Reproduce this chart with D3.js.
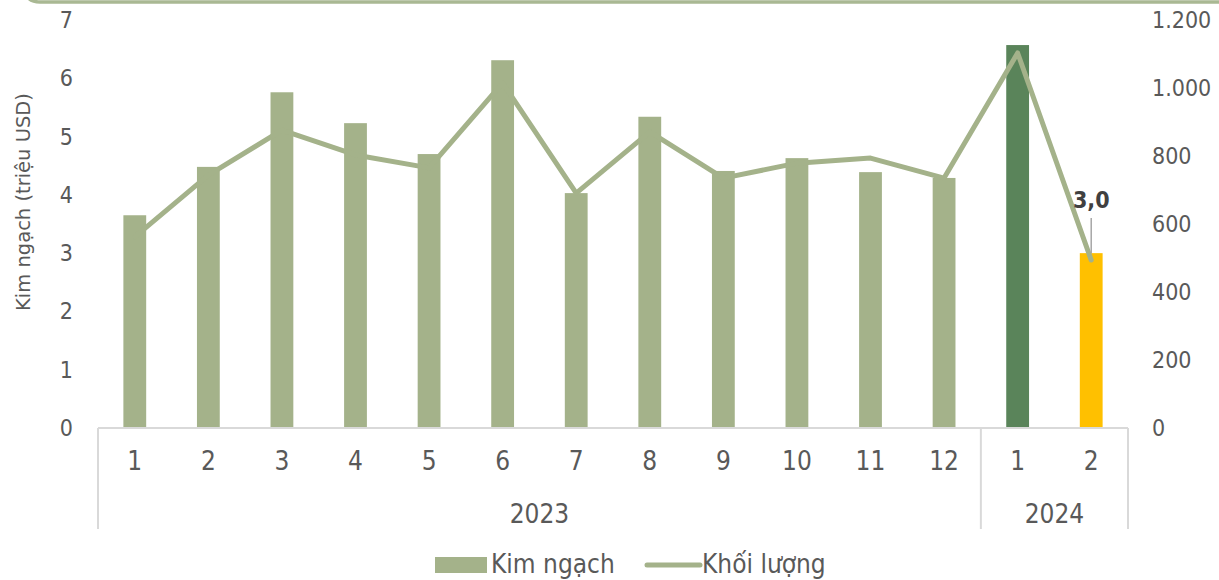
<!DOCTYPE html>
<html><head><meta charset="utf-8">
<script src="https://cdn.jsdelivr.net/npm/d3@7"></script>
<style>html,body{margin:0;padding:0;background:#fff;}svg{display:block;}</style>
</head><body>
<svg id="chart" width="1219" height="580"></svg>
<script>
const months = ["1","2","3","4","5","6","7","8","9","10","11","12","1","2"];
const years = ["2023","2023","2023","2023","2023","2023","2023","2023","2023","2023","2023","2023","2024","2024"];
const kimNgach = [3.65,4.48,5.76,5.23,4.70,6.31,4.03,5.34,4.41,4.63,4.39,4.29,6.57,3.0];
const khoiLuong = [562,744,876,803,765,1015,691,871,735,779,794,735,1103,494];
const leftTicks = [0,1,2,3,4,5,6,7];
const rightTicks = [0,200,400,600,800,1000,1200];
const seriesNames = ["Kim ngạch","Khối lượng"];
const yTitle = "Kim ngạch (triệu USD)";
const annotationLabel = "3,0";

(function(){
const svg = d3.select("#chart");
const W = 1219, H = 580;
const pLeft = 98, pRight = 1128, pTop = 20, pBottom = 428;
const font = "'DejaVu Sans Condensed','DejaVu Sans',sans-serif";
const txt = "#595959";
const green = "#A4B28A", dark = "#5A845A", yellow = "#FFC000";

// top frame
svg.append("path").attr("d", `M24,-12 Q26,2 40,2 L${W+5},2`).attr("fill","none").attr("stroke","#A9B893").attr("stroke-width",3.5);

const idx = d3.range(months.length);
const x = d3.scaleBand().domain(idx).range([pLeft, pRight]).padding(0);
const yL = d3.scaleLinear().domain([0,7]).range([pBottom, pTop]);
const yR = d3.scaleLinear().domain([0,1200]).range([pBottom, pTop]);
const bw = x.bandwidth() * 0.31;
const cx = i => x(i) + x.bandwidth()/2;

// bars
svg.append("g").selectAll("rect").data(idx).join("rect")
  .attr("x", i => cx(i) - bw/2)
  .attr("y", i => yL(kimNgach[i]))
  .attr("width", bw)
  .attr("height", i => yL(0) - yL(kimNgach[i]))
  .attr("fill", i => i === 12 ? dark : (i === 13 ? yellow : green));

// axis baseline
svg.append("line").attr("x1", pLeft).attr("x2", pRight).attr("y1", pBottom).attr("y2", pBottom)
  .attr("stroke", "#D9D9D9").attr("stroke-width", 2);

// group dividers
const groups = [];
years.forEach((y, i) => {
  if (!groups.length || groups[groups.length-1].name !== y) groups.push({name: y, start: i, end: i});
  else groups[groups.length-1].end = i;
});
const divX = [x(0)];
groups.forEach(g => divX.push(x(g.end) + x.bandwidth()));
svg.append("g").selectAll("line").data(divX).join("line")
  .attr("x1", d => d).attr("x2", d => d).attr("y1", pBottom).attr("y2", 529)
  .attr("stroke", "#D9D9D9").attr("stroke-width", 2);

// month labels
svg.append("g").selectAll("text").data(idx).join("text")
  .attr("x", i => cx(i)).attr("y", 470)
  .attr("text-anchor","middle").attr("font-family", font).attr("font-size", 26).attr("fill", txt)
  .text(i => months[i]);
// year labels
svg.append("g").selectAll("text").data(groups).join("text")
  .attr("x", g => (x(g.start) + x(g.end) + x.bandwidth())/2).attr("y", 523)
  .attr("text-anchor","middle").attr("font-family", font).attr("font-size", 26).attr("fill", txt)
  .text(g => g.name);

// left ticks
svg.append("g").selectAll("text").data(leftTicks).join("text")
  .attr("x", 73).attr("y", d => yL(d)).attr("dy", "0.35em")
  .attr("text-anchor","end").attr("font-family", font).attr("font-size", 23).attr("fill", txt)
  .text(d => d);
// right ticks
const fmt = d => d3.format(",")(d).replace(/,/g, ".");
svg.append("g").selectAll("text").data(rightTicks).join("text")
  .attr("x", 1152).attr("y", d => yR(d)).attr("dy", "0.35em")
  .attr("text-anchor","start").attr("font-family", font).attr("font-size", 23).attr("fill", txt)
  .text(d => fmt(d));

// y title
svg.append("text").attr("transform", "translate(30,202) rotate(-90)")
  .attr("text-anchor","middle").attr("font-family", "'DejaVu Sans',sans-serif").attr("font-size", 19.5).attr("fill", txt)
  .text(yTitle);

// line
const line = d3.line().x(i => cx(i)).y(i => yR(khoiLuong[i]));
svg.append("path").datum(idx).attr("d", line).attr("fill","none")
  .attr("stroke", green).attr("stroke-width", 5).attr("stroke-linejoin","round").attr("stroke-linecap","round");

// annotation on last bar
const li = 13;
svg.append("line").attr("x1", cx(li)).attr("x2", cx(li)).attr("y1", 218).attr("y2", yL(kimNgach[li]))
  .attr("stroke", "#A6A6A6").attr("stroke-width", 1.5);
svg.append("text").attr("x", cx(li)).attr("y", 208).attr("text-anchor","middle")
  .attr("font-family", font).attr("font-size", 23).attr("font-weight","bold").attr("fill", "#404040")
  .text(annotationLabel);

// legend
svg.append("rect").attr("x", 435).attr("y", 557).attr("width", 52).attr("height", 16).attr("fill", green);
svg.append("text").attr("x", 491).attr("y", 573).attr("font-family", font).attr("font-size", 26).attr("fill", txt).text(seriesNames[0]);
svg.append("line").attr("x1", 647).attr("x2", 700).attr("y1", 565).attr("y2", 565)
  .attr("stroke", green).attr("stroke-width", 5).attr("stroke-linecap","round");
svg.append("text").attr("x", 702).attr("y", 573).attr("font-family", font).attr("font-size", 26).attr("fill", txt).text(seriesNames[1]);
})();
</script>
</body></html>
